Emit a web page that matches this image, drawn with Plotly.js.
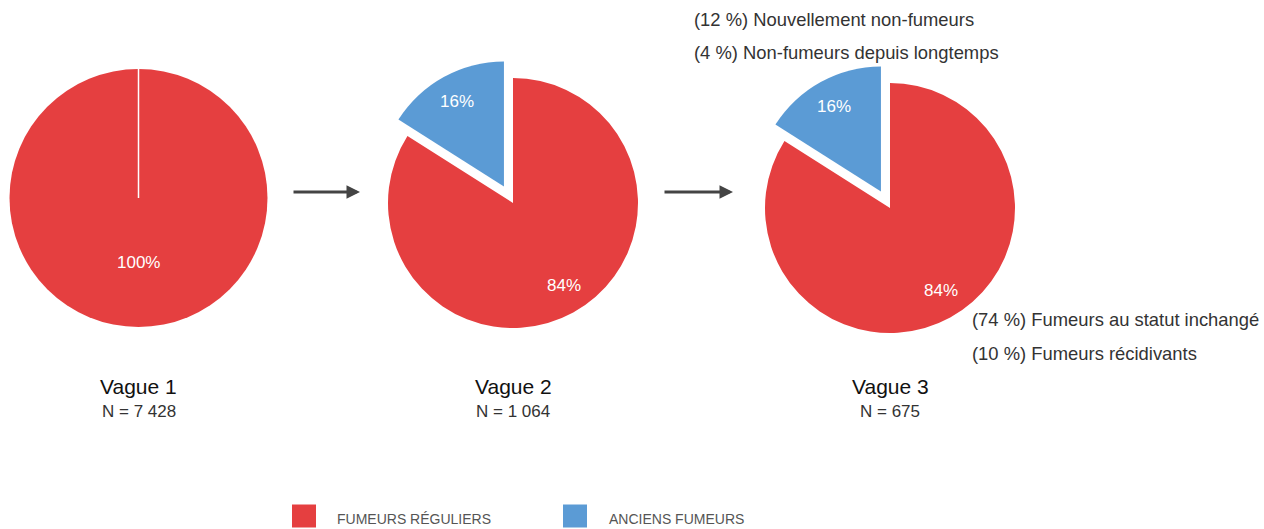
<!DOCTYPE html>
<html>
<head>
<meta charset="utf-8">
<script src="https://cdn.plot.ly/plotly-3.0.1.min.js"></script>
<style>html,body{margin:0;padding:0;background:#fff;}#chart{width:1264px;height:529px;}</style>
</head>
<body>
<div id="chart"></div>
<script>
// ---- data ----
const waves = ['Vague 1', 'Vague 2', 'Vague 3'];
const sampleSizes = ['N = 7 428', 'N = 1 064', 'N = 675'];
const categories = ['FUMEURS RÉGULIERS', 'ANCIENS FUMEURS'];
const regularSmokers = [100, 84, 84];
const formerSmokers = [0, 16, 16];
const formerDetail = ['(12 %) Nouvellement non-fumeurs', '(4 %) Non-fumeurs depuis longtemps'];
const regularDetail = ['(74 %) Fumeurs au statut inchangé', '(10 %) Fumeurs récidivants'];

// ---- styling ----
const W = 1264, H = 529;
const colors = ['#E53F40', '#5B9BD5'];
const FONT = 'Liberation Sans, Arial, sans-serif';
const pullFormer = 0.15;
// pie boxes in pixels [x0,x1,yTop,yBottom]
const boxes = [
  [9.5, 267.5, 69, 327],
  [369.25, 656.75, 59.25, 346.75],
  [746.25, 1033.75, 64.25, 351.75]
];
const dom = b => ({x: [b[0] / W, b[1] / W], y: [1 - b[3] / H, 1 - b[2] / H]});

const ann = [];
const shapes = [];

const traces = waves.map((w, i) => {
  const labels = [], values = [], pulls = [], cols = [];
  [regularSmokers[i], formerSmokers[i]].forEach((v, k) => {
    if (v > 0) { labels.push(categories[k]); values.push(v); pulls.push(k === 1 ? pullFormer : 0); cols.push(colors[k]); }
  });
  // percentage labels placed along each slice's mid angle
  const b = boxes[i];
  const cx = (b[0] + b[1]) / 2, cy = (b[2] + b[3]) / 2;
  const maxPull = Math.max(...pulls);
  const r = Math.min(b[1] - b[0], b[3] - b[2]) / (2 + 2 * maxPull);
  const total = values.reduce((s, v) => s + v, 0);
  let cum = 0;
  values.forEach((v, k) => {
    const f0 = cum / total; cum += v; const f1 = cum / total;
    const th = Math.PI * (f0 + f1) - (v === total || pulls[k] > 0 ? 0 : 0.05);
    const dx = Math.sin(th), dy = -Math.cos(th);
    const factor = (v === total) ? 0.5 : 0.78;
    const d = (pulls[k] + factor) * r;
    ann.push({x: (cx + dx * d) / W, y: 1 - (cy + dy * d) / H, xref: 'paper', yref: 'paper',
      text: Math.round(v / total * 100) + '%', showarrow: false, xanchor: 'center', yanchor: 'middle',
      font: {family: FONT, size: 17, color: '#fff'}});
  });
  return {
    type: 'pie', name: w, labels, values, pull: pulls, sort: false,
    direction: 'clockwise', rotation: 0,
    marker: {colors: cols, line: {color: '#fff', width: 0}},
    textinfo: 'none', hoverinfo: 'label+percent', domain: dom(b), showlegend: false
  };
});

waves.forEach((w, i) => {
  const b = boxes[i];
  const cx = (b[0] + b[1]) / 2 / W;
  ann.push({x: cx, y: 1 - 386 / H, xref: 'paper', yref: 'paper', text: w, showarrow: false,
    font: {family: FONT, size: 21, color: '#111'}, xanchor: 'center', yanchor: 'middle'});
  ann.push({x: cx, y: 1 - 411 / H, xref: 'paper', yref: 'paper', text: sampleSizes[i], showarrow: false,
    font: {family: FONT, size: 17, color: '#333'}, xanchor: 'center', yanchor: 'middle'});
});
// separator line of the full pie (wave 1)
{
  const b = boxes[0];
  const cx = (b[0] + b[1]) / 2 / W;
  shapes.push({type: 'line', xref: 'paper', yref: 'paper', x0: cx, x1: cx,
    y0: 1 - (b[2] + b[3]) / 2 / H, y1: 1 - b[2] / H, line: {color: '#fff', width: 1.5}});
}
// arrows between waves
[[292, 360], [663, 733]].forEach(a => {
  ann.push({x: a[1] / W, y: 1 - 192 / H, xref: 'paper', yref: 'paper', ax: a[0] - a[1], ay: 0,
    axref: 'pixel', ayref: 'pixel', showarrow: true, arrowhead: 2, arrowsize: 0.9, arrowwidth: 3,
    arrowcolor: '#444', text: ''});
});
// detail notes
formerDetail.forEach((t, k) => ann.push({x: 692 / W, y: 1 - [19, 52][k] / H, xref: 'paper', yref: 'paper',
  text: t, showarrow: false, xanchor: 'left', yanchor: 'middle', font: {family: FONT, size: 18.4, color: '#333'}}));
regularDetail.forEach((t, k) => ann.push({x: 970 / W, y: 1 - [319, 353][k] / H, xref: 'paper', yref: 'paper',
  text: t, showarrow: false, xanchor: 'left', yanchor: 'middle', font: {family: FONT, size: 18.4, color: '#333'}}));
// legend
[[292, 335], [563, 607]].forEach((p, k) => {
  shapes.push({type: 'rect', xref: 'paper', yref: 'paper', x0: p[0] / W, x1: (p[0] + 24) / W,
    y0: 1 - 527.5 / H, y1: 1 - 504.5 / H, fillcolor: colors[k], line: {width: 0}});
  ann.push({x: p[1] / W, y: 1 - 519 / H, xref: 'paper', yref: 'paper', text: categories[k], showarrow: false,
    xanchor: 'left', yanchor: 'middle', font: {family: FONT, size: 14, color: '#555'}});
});

Plotly.newPlot('chart', traces, {
  width: W, height: H, margin: {l: 0, r: 0, t: 0, b: 0},
  paper_bgcolor: '#fff', plot_bgcolor: '#fff', showlegend: false,
  annotations: ann, shapes: shapes, font: {family: FONT}
}, {displayModeBar: false, staticPlot: true});
</script>
</body>
</html>
